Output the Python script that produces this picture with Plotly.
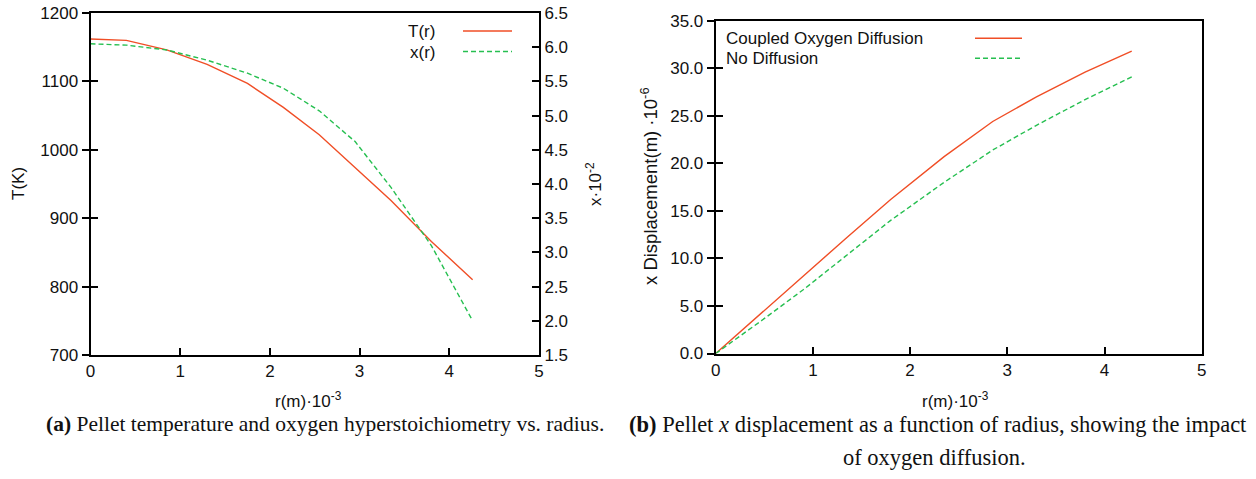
import plotly.graph_objects as go

# ---------------- data ----------------
r_a = [0, 0.4, 0.85, 1.3, 1.75, 2.15, 2.55, 2.95, 3.35, 3.8, 4.26]
T_vals = [1162, 1160, 1146, 1125, 1097, 1062, 1022, 974, 926, 866, 810]
x_vals = [6.05, 6.03, 5.96, 5.81, 5.62, 5.40, 5.07, 4.62, 3.95, 3.10, 2.0]

r_b = [0, 0.45, 0.9, 1.35, 1.8, 2.35, 2.85, 3.3, 3.8, 4.28]
disp_coupled = [0, 4.1, 8.1, 12.2, 16.2, 20.7, 24.4, 27.0, 29.6, 31.8]
disp_nodiff = [0, 3.3, 6.7, 10.3, 14.0, 18.0, 21.4, 24.0, 26.7, 29.1]

x_ticks = [0, 1, 2, 3, 4, 5]
T_ticks = [700, 800, 900, 1000, 1100, 1200]
xr_ticks = [1.5, 2.0, 2.5, 3.0, 3.5, 4.0, 4.5, 5.0, 5.5, 6.0, 6.5]
d_ticks = [0, 5, 10, 15, 20, 25, 30, 35]

RED = "#f04e26"
GREEN = "#26bf50"
W, H = 1256, 479
FONT = "Liberation Sans, Arial, sans-serif"
SERIF = "Liberation Serif, Times New Roman, serif"

def px(x):
    return x / W

def py(y):
    return 1 - y / H

fig = go.Figure()
fig.add_trace(go.Scatter(x=r_a, y=T_vals, mode="lines", name="T(r)",
                         line=dict(color=RED, width=1.4), xaxis="x", yaxis="y"))
fig.add_trace(go.Scatter(x=r_a, y=x_vals, mode="lines", name="x(r)",
                         line=dict(color=GREEN, width=1.4, dash="5px,3px"), xaxis="x", yaxis="y2"))
fig.add_trace(go.Scatter(x=r_b, y=disp_coupled, mode="lines", name="Coupled Oxygen Diffusion",
                         line=dict(color=RED, width=1.4), xaxis="x2", yaxis="y3"))
fig.add_trace(go.Scatter(x=r_b, y=disp_nodiff, mode="lines", name="No Diffusion",
                         line=dict(color=GREEN, width=1.4, dash="5px,3px"), xaxis="x2", yaxis="y3"))
# empty traces to anchor the inner-tick overlay axes
fig.add_trace(go.Scatter(x=[], y=[], xaxis="x", yaxis="y4", showlegend=False, hoverinfo="skip"))
fig.add_trace(go.Scatter(x=[], y=[], xaxis="x2", yaxis="y5", showlegend=False, hoverinfo="skip"))

dom_a_x = [px(90.5), px(539)]
dom_a_y = [py(355), py(13)]
dom_b_x = [px(715.7), px(1201.7)]
dom_b_y = [py(353.5), py(20.7)]

tickfont = dict(family=FONT, size=17, color="#111")
common = dict(showgrid=False, zeroline=False, showline=True, linecolor="black", linewidth=2,
              tickcolor="black", tickwidth=1.5, tickfont=tickfont, automargin=False)

fig.update_layout(
    width=W, height=H,
    margin=dict(l=0, r=0, t=0, b=0),
    paper_bgcolor="white", plot_bgcolor="white",
    showlegend=False,
    xaxis=dict(domain=dom_a_x, anchor="y", range=[0, 5], tickvals=x_ticks,
               ticks="inside", ticklen=7, mirror=True, **common),
    yaxis=dict(domain=dom_a_y, anchor="x", range=[700, 1200], tickvals=T_ticks,
               ticks="outside", ticklen=7, **common),
    yaxis2=dict(overlaying="y", side="right", anchor="x", range=[1.5, 6.5], tickvals=xr_ticks,
                tickformat=".1f", ticks="inside", ticklen=7, **common),
    yaxis4=dict(overlaying="y", side="left", anchor="x", range=[700, 1200], tickvals=T_ticks,
                ticks="inside", ticklen=7, showticklabels=False, **common),
    xaxis2=dict(domain=dom_b_x, anchor="y3", range=[0, 5], tickvals=x_ticks,
                ticks="inside", ticklen=7, mirror=True, **common),
    yaxis3=dict(domain=dom_b_y, anchor="x2", range=[0, 35], tickvals=d_ticks,
                tickformat=".1f", ticks="outside", ticklen=7, mirror=True, **common),
    yaxis5=dict(overlaying="y3", side="left", anchor="x2", range=[0, 35], tickvals=d_ticks,
                ticks="inside", ticklen=7, showticklabels=False, **common),
)

ann = []
lab = dict(family=FONT, size=17, color="#111")
# axis titles
ann.append(dict(x=px(18), y=py(184), text="T(K)", textangle=-90, font=lab))
ann.append(dict(x=px(594), y=py(184), text="x·10<sup>-2</sup>", textangle=-90, font=lab))
ann.append(dict(x=px(308), y=py(400), text="r(m)·10<sup>-3</sup>", font=lab))
ann.append(dict(x=px(649), y=py(186), text="x Displacement(m) ·10<sup>-6</sup>", textangle=-90,
                font=dict(family=FONT, size=18.5, color="#111")))
ann.append(dict(x=px(955), y=py(400), text="r(m)·10<sup>-3</sup>", font=lab))
# legends
ann.append(dict(x=px(437), y=py(31), text="T(r)", xanchor="right", font=lab))
ann.append(dict(x=px(437), y=py(52), text="x(r)", xanchor="right", font=lab))
ann.append(dict(x=px(724), y=py(38.5), text="Coupled Oxygen Diffusion", xanchor="left", font=lab))
ann.append(dict(x=px(724), y=py(58.5), text="No Diffusion", xanchor="left", font=lab))
# captions
ann.append(dict(x=px(325), y=py(424), text="<b>(a)</b> Pellet temperature and oxygen hyperstoichiometry vs. radius.",
                font=dict(family=SERIF, size=21.5, color="#111")))
ann.append(dict(x=px(938), y=py(424), text="<b>(b)</b> Pellet <i>x</i> displacement as a function of radius, showing the impact",
                font=dict(family=SERIF, size=22.5, color="#111")))
ann.append(dict(x=px(934), y=py(457), text="of oxygen diffusion.",
                font=dict(family=SERIF, size=22.5, color="#111")))
for a in ann:
    a.setdefault("xanchor", "center")
    a.update(xref="paper", yref="paper", yanchor="middle", showarrow=False)
fig.update_layout(annotations=ann)

# legend line samples
shapes = [
    dict(type="line", xref="paper", yref="paper", x0=px(463), x1=px(512), y0=py(31), y1=py(31),
         line=dict(color=RED, width=1.4)),
    dict(type="line", xref="paper", yref="paper", x0=px(463), x1=px(512), y0=py(51.5), y1=py(51.5),
         line=dict(color=GREEN, width=1.4, dash="5px,3px")),
    dict(type="line", xref="paper", yref="paper", x0=px(975), x1=px(1022), y0=py(38.3), y1=py(38.3),
         line=dict(color=RED, width=1.4)),
    dict(type="line", xref="paper", yref="paper", x0=px(975), x1=px(1022), y0=py(58.3), y1=py(58.3),
         line=dict(color=GREEN, width=1.4, dash="5px,3px")),
]
fig.update_layout(shapes=shapes)

fig.write_html("out.html")
